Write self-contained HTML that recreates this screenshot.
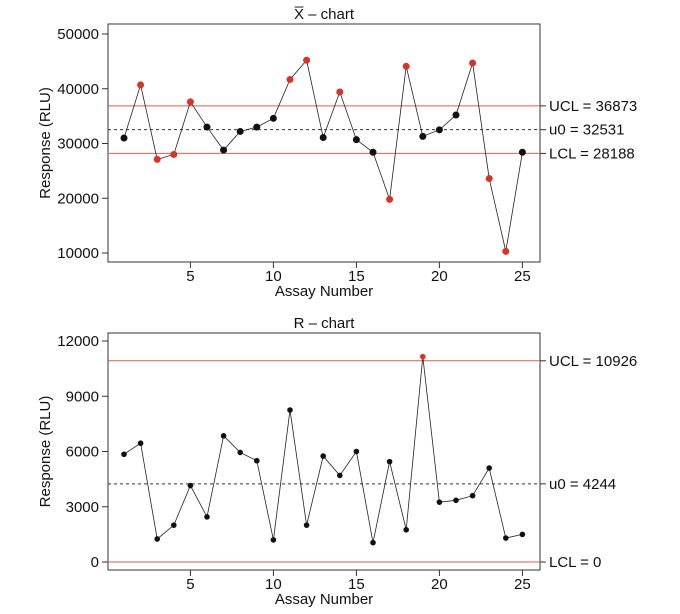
<!DOCTYPE html><html><head><style>body{margin:0;background:#fff}svg{display:block}text{font-family:"Liberation Sans",sans-serif;fill:#111}</style></head><body>
<svg id="s" width="680" height="614" xmlns="http://www.w3.org/2000/svg"></svg>
<script>
const s=document.getElementById('s');let h='';
function xp(i){return 124+(i-1)*16.6;}
function panel(top,bot,yv,data,red,vals,lines,ticks,title,yl){
 const L=108,R=540;
 h+=`<rect x="${L}" y="${top}" width="${R-L}" height="${bot-top}" fill="none" stroke="#333" stroke-width="1"/>`;
 h+=`<text x="324" y="${top-5}" font-size="15" text-anchor="middle">${title}</text>`;
 ticks.forEach(t=>{const y=yv(t);h+=`<line x1="${L-6}" x2="${L}" y1="${y}" y2="${y}" stroke="#333"/><text x="${L-9}" y="${y+5}" font-size="15" text-anchor="end">${t}</text>`;});
 [5,10,15,20,25].forEach(t=>{const x=xp(t);h+=`<line x1="${x}" x2="${x}" y1="${bot}" y2="${bot+6}" stroke="#333"/><text x="${x}" y="${bot+19}" font-size="15" text-anchor="middle">${t}</text>`;});
 h+=`<text x="324" y="${bot+34}" font-size="15" text-anchor="middle">Assay Number</text>`;
 h+=`<text transform="translate(50,${(top+bot)/2}) rotate(-90)" font-size="15" text-anchor="middle">${yl}</text>`;
 lines.forEach(([v,lab,dash])=>{const y=yv(v);h+=`<line x1="${L}" x2="${R}" y1="${y}" y2="${y}" stroke="${dash?'#333':'#d9604f'}" stroke-width="1" ${dash?'stroke-dasharray="3,3"':''}/><line x1="${R}" x2="${R+6}" y1="${y}" y2="${y}" stroke="#333"/><text x="${R+9}" y="${y+5}" font-size="15">${lab}</text>`;});
 h+=`<polyline fill="none" stroke="#222" stroke-width="0.8" points="${data.map((v,i)=>xp(i+1)+','+yv(v)).join(' ')}"/>`;
 data.forEach((v,i)=>{h+=`<circle cx="${xp(i+1)}" cy="${yv(v)}" r="${vals}" fill="${red.includes(i+1)?'#d8332a':'#111'}"/>`;});
}
const xb=[31000,40700,27100,28000,37600,33000,28800,32200,33000,34600,41700,45200,31100,39400,30700,28400,19800,44100,31300,32500,35200,44700,23600,10300,28400];
panel(24,262,v=>253-(v-10000)*219/40000,xb,[2,3,4,5,11,12,14,17,18,22,23,24],3.5,
 [[36873,'UCL = 36873',0],[32531,'u0 = 32531',1],[28188,'LCL = 28188',0]],[10000,20000,30000,40000,50000],'X&#773; &#8211; chart','Response (RLU)');
const rr=[5850,6450,1250,2000,4150,2450,6850,5950,5500,1200,8250,2000,5750,4700,6000,1050,5450,1750,11150,3250,3350,3600,5100,1300,1500];
panel(333,570,v=>562-v*221/12000,rr,[19],2.8,
 [[10926,'UCL = 10926',0],[4244,'u0 = 4244',1],[0,'LCL = 0',0]],[0,3000,6000,9000,12000],'R &#8211; chart','Response (RLU)');
s.innerHTML=h;
</script></body></html>
